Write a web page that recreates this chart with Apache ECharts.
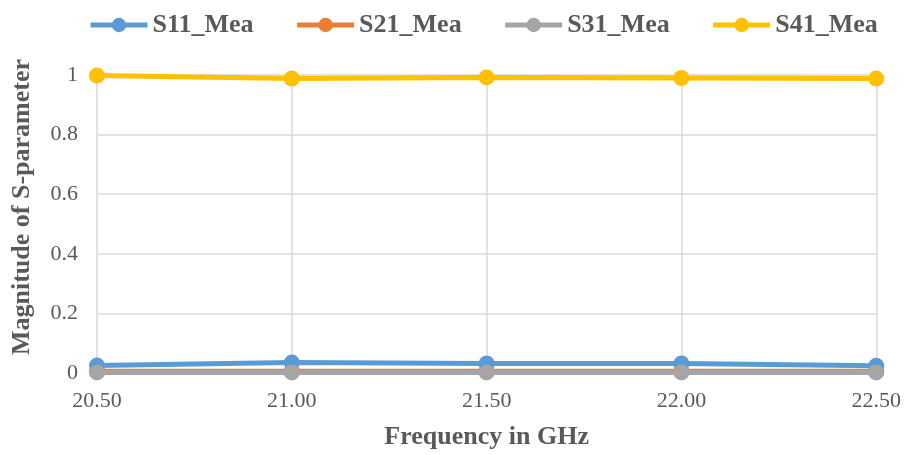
<!DOCTYPE html>
<html><head><meta charset="utf-8">
<script src="https://cdn.jsdelivr.net/npm/echarts@6/dist/echarts.min.js"></script>
<style>html,body{margin:0;padding:0;background:#fff}#c{width:904px;height:455px}</style>
</head><body><div id="c"></div>
<script>
const categories = ['20.50','21.00','21.50','22.00','22.50'];
const s11 = [0.025, 0.035, 0.032, 0.032, 0.024];
const s21 = [0.006, 0.006, 0.006, 0.006, 0.006];
const s31 = [0.002, 0.002, 0.002, 0.002, 0.002];
const s41 = [0.998, 0.988, 0.992, 0.99, 0.988];
const yTicks = [0, 0.2, 0.4, 0.6, 0.8, 1];

const colors = ['#5B9BD5','#ED7D31','#A5A5A5','#FFC000'];
const names = ['S11_Mea','S21_Mea','S31_Mea','S41_Mea'];
const data = [s11, s21, s31, s41];
const font = '"Liberation Serif", "Times New Roman", serif';

const chart = echarts.init(document.getElementById('c'));
chart.setOption({
  animation: false,
  color: colors,
  textStyle: {fontFamily: font},
  legend: {
    top: 7, left: 83, itemWidth: 57, itemHeight: 18, itemGap: 41,
    lineStyle: {width: 5},
    textStyle: {fontFamily: font, fontSize: 26, fontWeight: 'bold', color: '#595959'},
    data: names
  },
  grid: {left: 97, right: 27, top: 75, bottom: 79, containLabel: false},
  xAxis: {
    type: 'category', data: categories, boundaryGap: false,
    name: 'Frequency in GHz', nameLocation: 'middle', nameGap: 51,
    nameTextStyle: {fontFamily: font, fontSize: 26, fontWeight: 'bold', color: '#595959'},
    axisLine: {show: true, lineStyle: {color: '#d9d9d9'}},
    axisTick: {show: false},
    axisLabel: {fontFamily: font, fontSize: 22, color: '#595959', margin: 17},
    splitLine: {show: true, lineStyle: {color: '#d9d9d9', width: 1.5}}
  },
  yAxis: {
    type: 'value', min: 0, max: 1, interval: 0.2,
    name: 'Magnitude of S-parameter', nameLocation: 'middle', nameGap: 62,
    nameTextStyle: {fontFamily: font, fontSize: 26, fontWeight: 'bold', color: '#595959', padding: [0, 0, 0, 34]},
    axisLine: {show: false}, axisTick: {show: false},
    axisLabel: {fontFamily: font, fontSize: 22, color: '#595959', margin: 19,
      formatter: v => (yTicks.includes(Math.round(v*10)/10) ? String(Math.round(v*10)/10) : '')},
    splitLine: {show: true, lineStyle: {color: '#d9d9d9', width: 1.5}}
  },
  series: names.map((n, i) => ({
    name: n, type: 'line', data: data[i], symbol: 'circle', symbolSize: 16,
    lineStyle: {width: 5, color: colors[i]}, itemStyle: {color: colors[i]},
    z: i === 1 ? 1 : 2
  }))
});
</script></body></html>
